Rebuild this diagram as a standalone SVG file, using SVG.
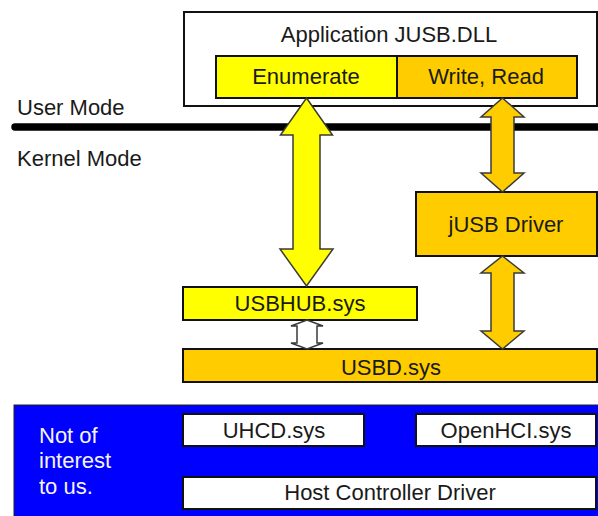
<svg xmlns="http://www.w3.org/2000/svg" width="598" height="516" viewBox="0 0 598 516">
<style>
text{font-family:"Liberation Sans",Arial,sans-serif;font-size:22px;fill:#1a1a1a}
.c{text-anchor:middle}
.w{fill:#f4f4f4}
.box{stroke:#111;stroke-width:2}
.yel{fill:#ffff00}
.org{fill:#ffcc00}
.wht{fill:#ffffff}
.arr{stroke:#3a3a3a;stroke-width:1.5;stroke-linejoin:miter}
</style>
<rect width="598" height="516" fill="#fff"/>
<g id="mode-line">
<line x1="15" y1="127" x2="598" y2="127" stroke="#000" stroke-width="7.5" stroke-linecap="round"/>
<text x="17" y="115">User Mode</text>
<text x="17" y="166">Kernel Mode</text>
</g>
<g id="app">
<rect class="box wht" x="184" y="12" width="413" height="94"/>
<text class="c" x="389" y="42">Application JUSB.DLL</text>
</g>
<g id="enumerate">
<rect class="box yel" x="216" y="56" width="181" height="42"/>
<text class="c" x="306" y="84">Enumerate</text>
</g>
<g id="writeread">
<rect class="box org" x="397" y="56" width="180" height="42"/>
<text class="c" x="486" y="84">Write, Read</text>
</g>
<g id="jusb-driver">
<rect class="box org" x="416" y="192" width="181" height="64"/>
<text class="c" x="506" y="232">jUSB Driver</text>
</g>
<g id="usbhub">
<rect class="box yel" x="183" y="287" width="234" height="33"/>
<text class="c" x="300" y="311">USBHUB.sys</text>
</g>
<g id="usbd">
<rect class="box org" x="183" y="349" width="414" height="33"/>
<text class="c" x="391" y="375">USBD.sys</text>
</g>
<g id="not-of-interest">
<rect x="14" y="405" width="590" height="120" fill="#0000ff" stroke="#222" stroke-width="1"/>
<text class="w" x="39" y="443">Not of</text>
<text class="w" x="39" y="468">interest</text>
<text class="w" x="39" y="494">to us.</text>
</g>
<g id="uhcd">
<rect class="box wht" x="183" y="414" width="181" height="32" stroke-width="2.5"/>
<text class="c" x="274" y="438">UHCD.sys</text>
</g>
<g id="openhci">
<rect class="box wht" x="416" y="414" width="180" height="32" stroke-width="2.5"/>
<text class="c" x="506" y="438">OpenHCI.sys</text>
</g>
<g id="hcd">
<rect class="box wht" x="183" y="477" width="413" height="32" stroke-width="2.5"/>
<text class="c" x="390" y="500">Host Controller Driver</text>
</g>
<g id="connectors">
<path class="arr yel" d="M306.5,98 L332.5,135 L320,135 L320,249 L333,249 L306.5,286 L280,249 L293,249 L293,135 L280.5,135 Z"/>
<path class="arr org" d="M502.5,98 L524,117 L514,117 L514,173 L524,173 L502.5,192 L481,173 L491,173 L491,117 L481,117 Z"/>
<path class="arr org" d="M502.5,256 L524,273 L514,273 L514,331 L524,331 L502.5,349 L481,331 L491,331 L491,273 L481,273 Z"/>
<path class="arr wht" d="M307,320 L323,326 L317,326 L317,343 L323,343 L307,349 L291,343 L297,343 L297,326 L291,326 Z"/>
</g>
</svg>
